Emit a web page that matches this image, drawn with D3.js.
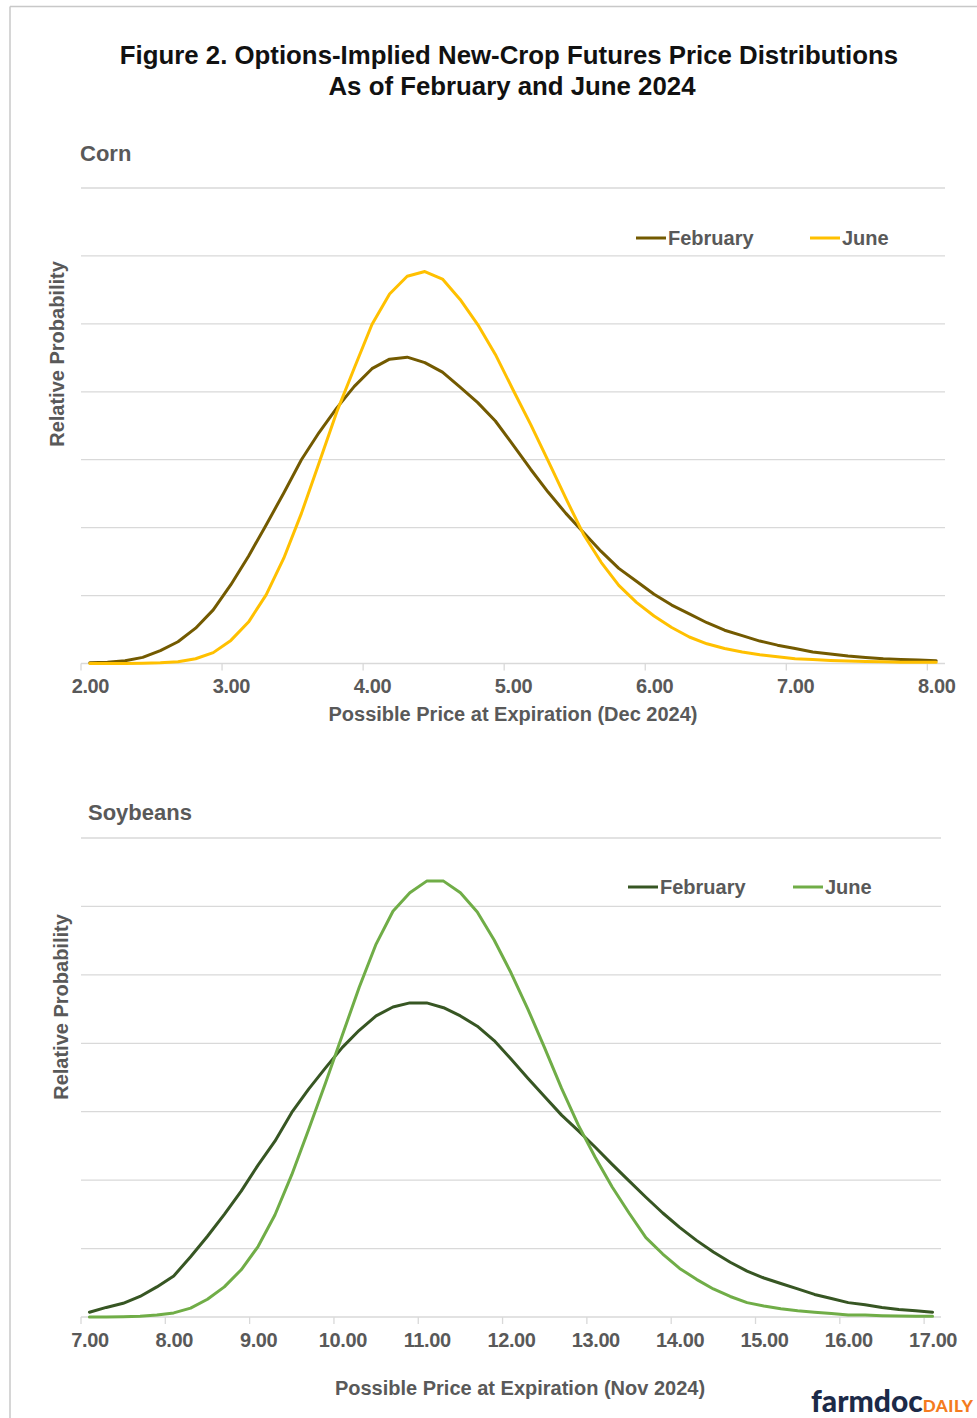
<!DOCTYPE html>
<html>
<head>
<meta charset="utf-8">
<script src="https://cdn.jsdelivr.net/npm/d3@7"></script>
<style>
  body { margin: 0; background: #fff; }
  svg text { font-family: "Liberation Sans", Arial, sans-serif; font-weight: bold; }
</style>
</head>
<body>
<svg id="chart" width="977" height="1418"></svg>
<script>
// ---- data (relative probability, gridline = 1 unit) ----
const seriesNames = ["February", "June"];

const cornPrices = [2.000, 2.125, 2.250, 2.375, 2.500, 2.625, 2.750, 2.875,
  3.000, 3.125, 3.250, 3.375, 3.500, 3.625, 3.750, 3.875,
  4.000, 4.125, 4.250, 4.375, 4.500, 4.625, 4.750, 4.875,
  5.000, 5.125, 5.250, 5.375, 5.500, 5.625, 5.750, 5.875,
  6.000, 6.125, 6.250, 6.375, 6.500, 6.625, 6.750, 6.875,
  7.000, 7.125, 7.250, 7.375, 7.500, 7.625, 7.750, 7.875, 8.000];
const cornFebruary = [0.01, 0.02, 0.04, 0.09, 0.19, 0.32, 0.52, 0.79,
  1.16, 1.58, 2.04, 2.51, 3.00, 3.40, 3.76, 4.08,
  4.34, 4.48, 4.51, 4.43, 4.29, 4.07, 3.84, 3.57,
  3.22, 2.86, 2.52, 2.21, 1.93, 1.65, 1.40, 1.21,
  1.02, 0.86, 0.73, 0.60, 0.49, 0.41, 0.33, 0.27,
  0.22, 0.17, 0.14, 0.11, 0.09, 0.07, 0.06, 0.05, 0.04];
const cornJune = [0.00, 0.00, 0.00, 0.005, 0.01, 0.025, 0.07, 0.16,
  0.34, 0.61, 1.01, 1.55, 2.21, 2.95, 3.70, 4.35,
  4.99, 5.44, 5.70, 5.77, 5.66, 5.36, 4.99, 4.55,
  4.03, 3.52, 2.98, 2.43, 1.90, 1.49, 1.15, 0.90,
  0.70, 0.53, 0.39, 0.29, 0.22, 0.17, 0.13, 0.10,
  0.07, 0.06, 0.045, 0.035, 0.03, 0.025, 0.02, 0.02, 0.02];
const cornTickLabels = ["2.00", "3.00", "4.00", "5.00", "6.00", "7.00", "8.00"];

const soyPrices = [7.0, 7.2, 7.4, 7.6, 7.8, 8.0, 8.2, 8.4, 8.6, 8.8,
  9.0, 9.2, 9.4, 9.6, 9.8, 10.0, 10.2, 10.4, 10.6, 10.8,
  11.0, 11.2, 11.4, 11.6, 11.8, 12.0, 12.2, 12.4, 12.6, 12.8,
  13.0, 13.2, 13.4, 13.6, 13.8, 14.0, 14.2, 14.4, 14.6, 14.8,
  15.0, 15.2, 15.4, 15.6, 15.8, 16.0, 16.2, 16.4, 16.6, 16.8, 17.0];
const soyFebruary = [0.07, 0.14, 0.20, 0.30, 0.44, 0.60, 0.88, 1.18, 1.50, 1.84,
  2.22, 2.57, 2.99, 3.33, 3.64, 3.94, 4.19, 4.40, 4.53, 4.59,
  4.59, 4.52, 4.40, 4.25, 4.04, 3.77, 3.49, 3.22, 2.95, 2.72,
  2.48, 2.23, 1.99, 1.75, 1.52, 1.31, 1.12, 0.95, 0.80, 0.67,
  0.57, 0.49, 0.41, 0.33, 0.27, 0.21, 0.18, 0.14, 0.11, 0.09, 0.07];
const soyJune = [0.00, 0.00, 0.005, 0.01, 0.03, 0.06, 0.13, 0.26, 0.44, 0.69,
  1.03, 1.49, 2.08, 2.74, 3.42, 4.12, 4.82, 5.45, 5.93, 6.20,
  6.37, 6.37, 6.20, 5.92, 5.51, 5.03, 4.50, 3.93, 3.34, 2.80,
  2.33, 1.90, 1.52, 1.16, 0.92, 0.71, 0.55, 0.41, 0.30, 0.21,
  0.16, 0.12, 0.09, 0.07, 0.05, 0.03, 0.03, 0.02, 0.015, 0.01, 0.01];
const soyTickLabels = ["7.00", "8.00", "9.00", "10.00", "11.00", "12.00",
  "13.00", "14.00", "15.00", "16.00", "17.00"];

const gridMax = 7;
const textGray = "#595959";
const gridGray = "#D9D9D9";

const svg = d3.select("#chart");

// frame
svg.append("line").attr("x1", 10).attr("x2", 977).attr("y1", 6.5).attr("y2", 6.5)
  .attr("stroke", "#C8C8C8").attr("stroke-width", 1.5);
svg.append("line").attr("x1", 10).attr("x2", 10).attr("y1", 6.5).attr("y2", 1418)
  .attr("stroke", "#C8C8C8").attr("stroke-width", 1.5);

// title
svg.append("text").attr("x", 509).attr("y", 64).attr("text-anchor", "middle")
  .attr("font-size", 25.8).attr("fill", "#111")
  .text("Figure 2. Options-Implied New-Crop Futures Price Distributions");
svg.append("text").attr("x", 512).attr("y", 95).attr("text-anchor", "middle")
  .attr("font-size", 25.8).attr("fill", "#111")
  .text("As of February and June 2024");

function drawPanel(p) {
  const g = svg.append("g");

  const x = d3.scalePoint().domain(p.prices).range([p.left, p.right]).padding(0.5);
  const y = d3.scaleLinear().domain([0, gridMax]).range([p.bottom, p.top]);
  const half = x.step() / 2;

  // panel label
  g.append("text").attr("x", p.nameX).attr("y", p.nameY)
    .attr("font-size", 22).attr("fill", textGray).text(p.name);

  // horizontal gridlines
  g.selectAll(".grid").data(y.ticks(gridMax).filter(d => d > 0)).join("line")
    .attr("x1", p.left).attr("x2", p.right)
    .attr("y1", d => y(d)).attr("y2", d => y(d))
    .attr("stroke", gridGray).attr("stroke-width", 1.3);

  // baseline + tick marks between categories
  g.append("line").attr("x1", p.left).attr("x2", p.right)
    .attr("y1", y(0)).attr("y2", y(0))
    .attr("stroke", gridGray).attr("stroke-width", 1.3);
  const tickVals = p.tickLabels.map(Number);
  g.selectAll(".tk").data(tickVals).join("line")
    .attr("x1", d => x(d) - half).attr("x2", d => x(d) - half)
    .attr("y1", y(0)).attr("y2", y(0) + 7)
    .attr("stroke", gridGray).attr("stroke-width", 1.3);

  // tick labels, centred on categories
  const ax = g.append("g").attr("transform", `translate(0,${p.labelY})`)
    .call(d3.axisBottom(x).tickValues(tickVals)
      .tickFormat((d, i) => p.tickLabels[i]).tickSize(0).tickPadding(0));
  ax.select(".domain").remove();
  ax.attr("font-family", null).attr("font-size", null);
  ax.selectAll("text").attr("dy", null).attr("y", 0)
    .attr("font-size", 20).attr("fill", textGray).style("letter-spacing", "-0.4px");

  // axis titles
  g.append("text").attr("x", p.xTitleX).attr("y", p.xTitleY).attr("text-anchor", "middle")
    .attr("font-size", 20).attr("fill", textGray)
    .text(p.xTitle);
  g.append("text")
    .attr("transform", `translate(${p.yTitleX},${p.yTitleY}) rotate(-90)`)
    .attr("text-anchor", "middle").attr("font-size", 20).attr("fill", textGray)
    .text("Relative Probability");

  // lines
  const line = d3.line().x((d, i) => x(p.prices[i])).y(d => y(d));
  [p.february, p.june].forEach((vals, k) => {
    g.append("path").datum(vals)
      .attr("d", line).attr("fill", "none")
      .attr("stroke", p.colors[k]).attr("stroke-width", 3)
      .attr("stroke-linejoin", "round").attr("stroke-linecap", "round");
  });

  // legend
  seriesNames.forEach((name, k) => {
    const lx = p.legendX[k];
    g.append("line").attr("x1", lx).attr("x2", lx + 30)
      .attr("y1", p.legendY).attr("y2", p.legendY)
      .attr("stroke", p.colors[k]).attr("stroke-width", 3);
    g.append("text").attr("x", lx + 32).attr("y", p.legendY + 7)
      .attr("font-size", 20).attr("fill", textGray)
      .text(name);
  });
}

drawPanel({
  name: "Corn", nameX: 80, nameY: 161,
  prices: cornPrices, february: cornFebruary, june: cornJune,
  tickLabels: cornTickLabels,
  colors: ["#735A00", "#FFC000"],
  left: 81, right: 945, top: 188, bottom: 663.5,
  labelY: 693,
  xTitle: "Possible Price at Expiration (Dec 2024)", xTitleX: 513, xTitleY: 721,
  yTitleX: 64, yTitleY: 354,
  legendX: [636, 810], legendY: 238
});

drawPanel({
  name: "Soybeans", nameX: 88, nameY: 820,
  prices: soyPrices, february: soyFebruary, june: soyJune,
  tickLabels: soyTickLabels,
  colors: ["#375623", "#70AD47"],
  left: 81, right: 941, top: 838, bottom: 1317,
  labelY: 1347,
  xTitle: "Possible Price at Expiration (Nov 2024)", xTitleX: 520, xTitleY: 1395,
  yTitleX: 68, yTitleY: 1007,
  legendX: [628, 793], legendY: 887
});

// farmdoc daily logo
const logo = svg.append("text").attr("x", 811).attr("y", 1412);
logo.append("tspan").attr("font-family", "Lato, 'Open Sans', sans-serif").attr("font-weight", 900)
  .attr("font-size", 30).attr("fill", "#1C2A48").text("farmdoc");
logo.append("tspan").attr("font-family", "Lato, 'Open Sans', sans-serif").attr("font-weight", 900)
  .attr("font-size", 17).attr("fill", "#F47B20").style("letter-spacing", "0.5px").text("DAILY");
</script>
</body>
</html>
